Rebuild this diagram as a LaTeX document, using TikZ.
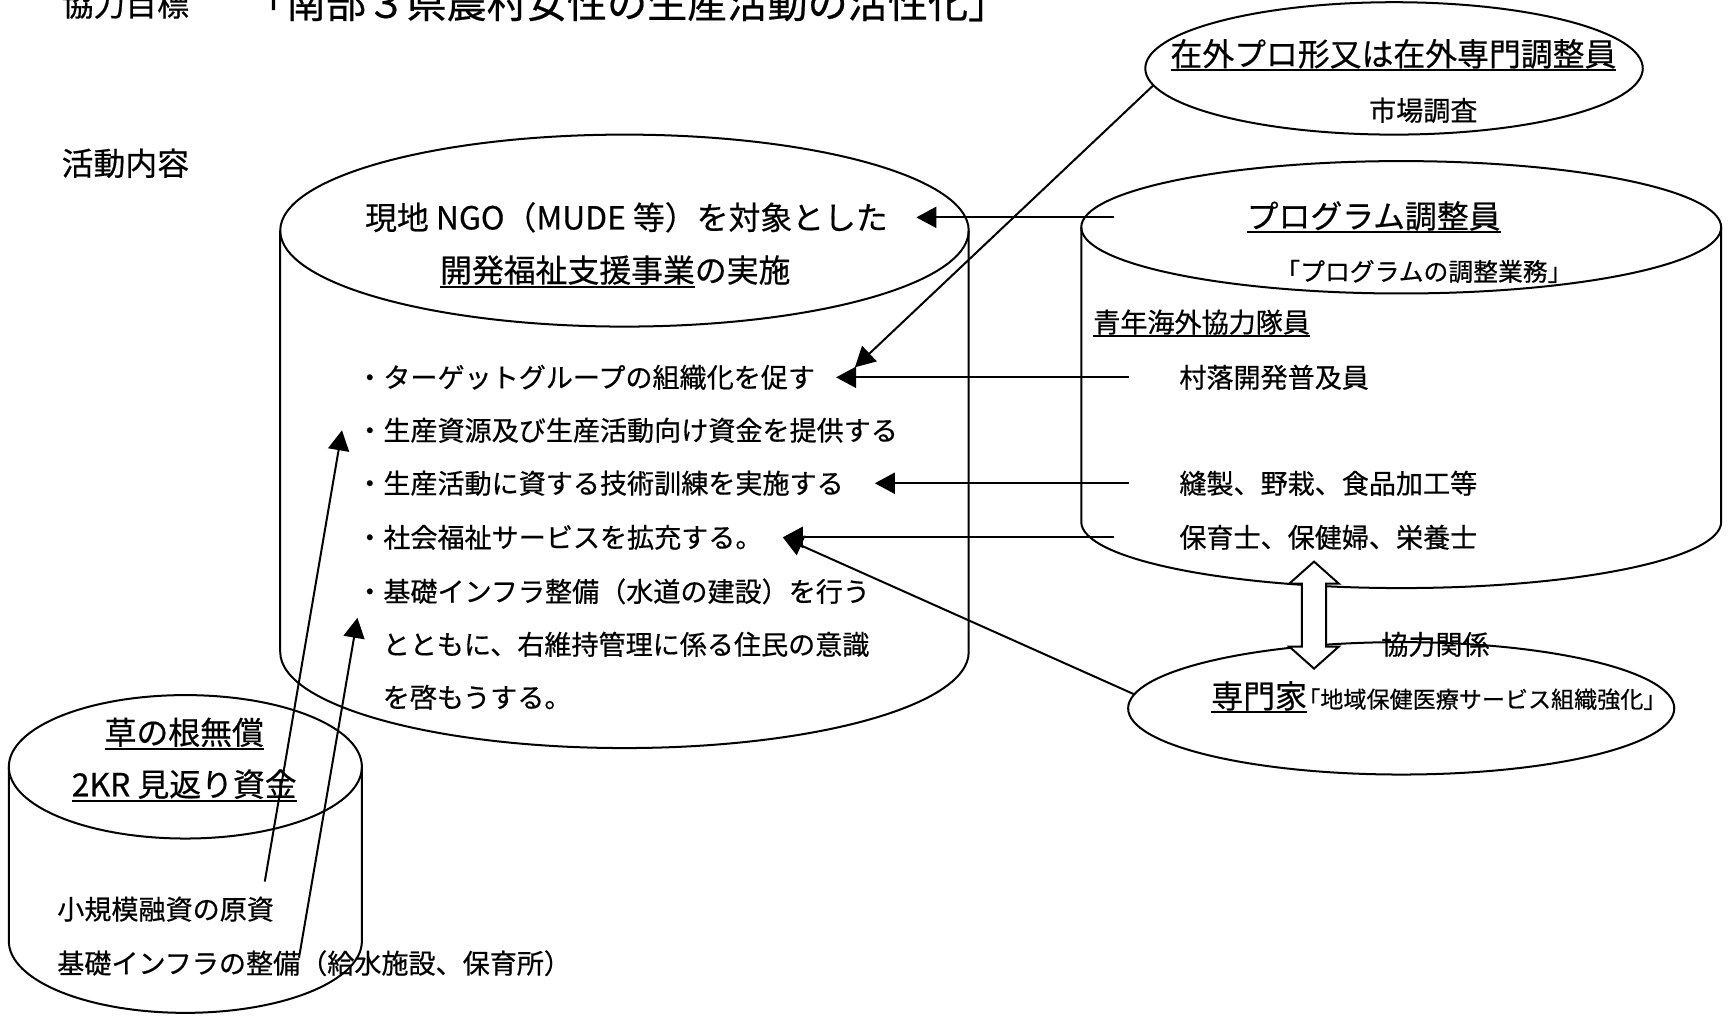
\documentclass[tikz,border=0pt]{standalone}
\usepackage{fontspec}
\setmainfont{Noto Sans CJK JP}[FakeBold=0.5]
\usepackage{tikz}
\usetikzlibrary{arrows.meta}
\usetikzlibrary{shapes.geometric}
\usetikzlibrary{positioning}
\newcommand{\ulined}[1]{\begingroup\setbox0\hbox{#1}\rlap{\rule[-0.17em]{\wd0}{0.8pt}}\box0\endgroup}
\tikzset{
    txt/.style={inner sep=0pt, anchor=west, font=\fontsize{10.8}{13}\selectfont},
    hd/.style={inner sep=0pt, anchor=west, font=\fontsize{12.7}{15}\selectfont},
    ttl/.style={inner sep=0pt, font=\fontsize{16}{19}\selectfont},
    sm/.style={inner sep=0pt, anchor=west, font=\fontsize{9.9}{12}\selectfont},
    smm/.style={inner sep=0pt, font=\fontsize{9.2}{11}\selectfont},
    oval/.style={draw=black, ellipse, inner sep=0pt, outer sep=0pt},
    arr/.style={draw=black, -{Triangle[length=8pt,width=8.4pt]}},
}

\begin{document}
\begin{tikzpicture}[x=0.44pt, y=-0.44pt, line width=0.8pt]
	\useasboundingbox[fill=white] (0,0) rectangle (1568,921);
	\node[hd, anchor=base west] (goal) at (55,14.6) {協力目標};
	\node[ttl, anchor=base west] (title) at (222,16.2) {「南部３県農村女性の生産活動の活性化」};
	\node[hd] (act) at (55,148) {活動内容};
	% cans
	\draw (254,209) -- (254,591) arc[start angle=180, end angle=0, x radius=312, y radius=87] -- (878,209);
	\draw (566,209) ellipse [x radius=312, y radius=87];
	\draw (980,206) -- (980,473) arc[start angle=180, end angle=0, x radius=290, y radius=60] -- (1560,206);
	\draw (1270,206) ellipse [x radius=290, y radius=60];
	\draw (8,695) -- (8,853) arc[start angle=180, end angle=0, x radius=160, y radius=65] -- (328,695);
	\draw (168,695) ellipse [x radius=160, y radius=65];
	\node[oval, minimum width=198.4pt, minimum height=52.8pt] (zaigai) at (1263.5,62) {};
	\node[oval, minimum width=217.8pt, minimum height=52.8pt] (senmon) at (1270,642) {};
	% NGO
	\node[hd] (ngo1) at (330,197) {現地 NGO（MUDE 等）を対象とした};
	\node[hd] (ngo2) at (398,246) {\ulined{開発福祉支援事業}の実施};
	\node[txt] (t1) at (322,342) {・ターゲットグループの組織化を促す};
	\node[txt] (t2) at (322,390) {・生産資源及び生産活動向け資金を提供する};
	\node[txt] (t3) at (322,438) {・生産活動に資する技術訓練を実施する};
	\node[txt] (t4) at (322,487) {・社会福祉サービスを拡充する。};
	\node[txt] (t5) at (322,536) {・基礎インフラ整備（水道の建設）を行う};
	\node[txt] (t6) at (346,584) {とともに、右維持管理に係る住民の意識};
	\node[txt] (t7) at (346,632) {を啓もうする。};
	% program
	\node[hd, anchor=center] (prg) at (1245,197) {\ulined{プログラム調整員}};
	\node[sm] (prgs) at (1155,246) {「プログラムの調整業務」};
	\node[txt] (jocv) at (990,293) {\ulined{青年海外協力隊員}};
	\node[txt] (v1) at (1068,342) {村落開発普及員};
	\node[txt] (v2) at (1068,438) {縫製、野栽、食品加工等};
	\node[txt] (v3) at (1068,487) {保育士、保健婦、栄養士};
	\node[hd] (zg) at (1060,50) {\ulined{在外プロ形又は在外専門調整員}};
	\node[txt] (mkt) at (1240,100) {市場調査};
	\node[hd] (exp) at (1097,632) {\ulined{専門家}};
	\node[smm, anchor=base west] (expt) at (exp.base east) {｢地域保健医療サービス組織強化」};
	% grass roots
	\node[hd, anchor=center] (gr1) at (167,665) {\ulined{草の根無償}};
	\node[hd, anchor=center] (gr2) at (167,712) {\ulined{2KR 見返り資金}};
	\node[txt] (gr3) at (51,824) {小規模融資の原資};
	\node[txt] (gr4) at (51,873) {基礎インフラの整備（給水施設、保育所）};
	% arrows
	\coordinate (b0) at (1010,197);
	\coordinate (b1) at (1023,342);
	\coordinate (b2) at (1023,438);
	\coordinate (b3) at (1010,487);
	\coordinate (g1) at (240,799);
	\coordinate (g2) at (271,868);
	\draw[arr] (b0) -- ([xshift=11pt]ngo1.east);
	\draw[arr] (b1) -- ([xshift=8pt]t1.east);
	\draw[arr] (b2) -- ([xshift=12pt]t3.east);
	\draw[arr] (b3) -- ([xshift=7.7pt]t4.east);
	\draw[arr] (zaigai.184) -- ([xshift=15.5pt,yshift=4pt]t1.east);
	\draw[arr] (senmon.177) -- ([xshift=7.7pt]t4.east);
	\draw[arr] (g1) -- ([xshift=-5.3pt]t2.west);
	\draw[arr] (g2) -- ([xshift=-9.7pt,yshift=10.6pt]t6.west);
	% cooperation
	\draw[fill=white] (1191,509) -- (1213.5,529) -- (1202,529) -- (1202,586) -- (1213.5,586) -- (1191,606)
		-- (1168.5,586) -- (1180,586) -- (1180,529) -- (1168.5,529) -- cycle;
	\node[txt] (coopl) at (1251,584) {協力関係};
\end{tikzpicture}
\end{document}
